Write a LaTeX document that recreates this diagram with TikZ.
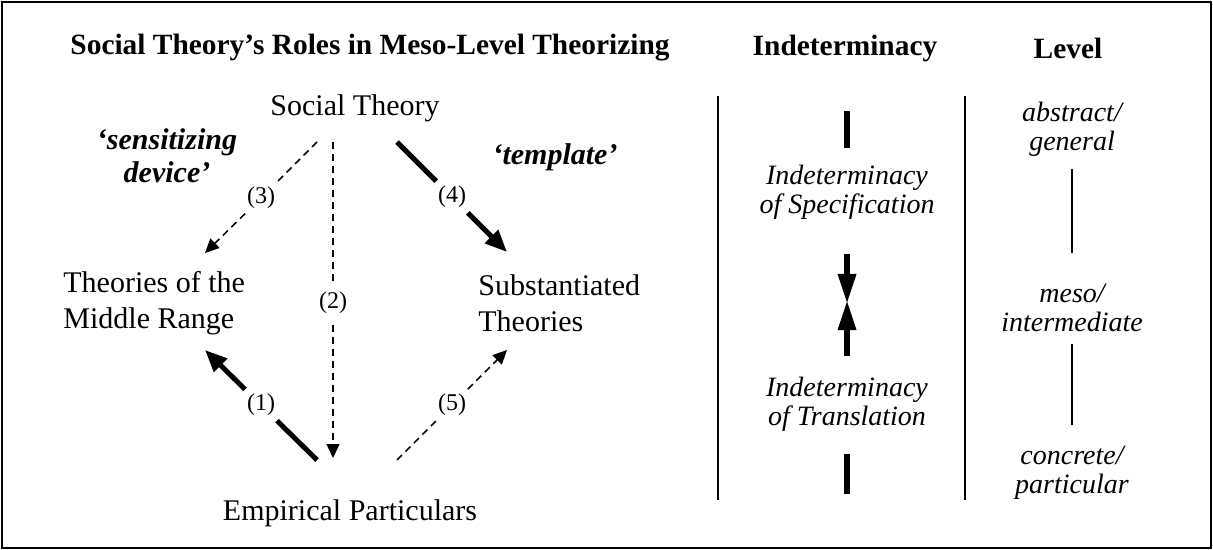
\documentclass[tikz,border=0pt]{standalone}
\usepackage{fontspec}
\setmainfont{Liberation Serif}
\usetikzlibrary{arrows.meta}

\begin{document}
\begin{tikzpicture}[x=0.5pt,y=-0.5pt,
  txt/.style={font=\fontsize{15}{18}\selectfont, inner sep=0pt, align=left},
  head/.style={font=\fontsize{14.7}{17}\selectfont\bfseries, inner sep=0pt},
  role/.style={font=\fontsize{15}{16.5}\selectfont\bfseries\itshape, inner sep=0pt, align=center},
  lvl/.style={font=\fontsize{14}{14.5}\selectfont\itshape, inner sep=0pt, align=center},
  num/.style={font=\fontsize{12}{14}\selectfont, circle, inner sep=0pt, minimum size=22pt},
  heavy/.style={line width=2.5pt},
  light/.style={line width=0.75pt, dash pattern=on 3.5pt off 2.5pt},
  heavyhead/.style={-{Triangle[length=11pt,width=9pt]}},
  lighthead/.style={-{Triangle[length=7pt,width=6.5pt]}},
  bar/.style={line width=3pt},
  bigarr/.style={line width=3pt, -{Triangle[length=15pt,width=8.5pt]}},
  sep/.style={line width=1pt},
  lvlline/.style={line width=0.7pt}]

\useasboundingbox (0,0) rectangle (1213,550);
\draw[line width=1pt] (2,2) rectangle (1211,548);

% ===== Headings =====
\node[head] (h1) at (370,48) {Social Theory’s Roles in Meso-Level Theorizing};
\node[head] (h2) at (845,48) {Indeterminacy};
\node[head] (h3) at (1068,48) {Level};

% ===== Left part: roles of social theory =====
\node[txt] (st) at (355,108) {Social Theory};
\node[txt, anchor=west] (mr) at (63,303) {Theories of the\\Middle Range};
\node[txt, anchor=west] (sb) at (478,303) {Substantiated\\Theories};
\node[txt] (ep) at (350,513) {Empirical Particulars};
\node[role] (sens) at (167,156) {‘sensitizing\\device’};
\node[role] (tmpl) at (555,157) {‘template’};

\coordinate (st3) at (317,142);
\coordinate (st2) at (333,142);
\coordinate (st4) at (397,142);
\coordinate (mr3) at (205,253);
\coordinate (sb4) at (507,252);
\coordinate (ep1) at (317,460);
\coordinate (ep2) at (333,458);
\coordinate (ep5) at (397,460);
\coordinate (mr1) at (205,350);
\coordinate (sb5) at (507,350);

\node[num] (n3) at (261,198) {(3)};
\node[num] (n4) at (452,197) {(4)};
\node[num] (n2) at (333,303) {(2)};
\node[num] (n1) at (261,405) {(1)};
\node[num] (n5) at (452,405) {(5)};

\draw[light] (st3) -- (n3);
\draw[light, lighthead] (n3) -- (mr3);
\draw[light] (st2) -- (n2);
\draw[light, lighthead] (n2) -- (ep2);
\draw[heavy] (st4) -- (n4);
\draw[heavy, heavyhead] (n4) -- (sb4);
\draw[heavy] (ep1) -- (n1);
\draw[heavy, heavyhead] (n1) -- (mr1);
\draw[light] (ep5) -- (n5);
\draw[light, lighthead] (n5) -- (sb5);

% ===== Separators =====
\draw[sep] (718,96) -- (718,500);
\draw[sep] (965,96) -- (965,500);

% ===== Indeterminacy =====
\node[lvl] (spec) at (847,192) {Indeterminacy\\of Specification};
\node[lvl] (trans) at (847,404) {Indeterminacy\\of Translation};
\coordinate (meet) at (847,302);
\draw[bar] ([yshift=8pt]spec.north) -- ++(0,-37);
\draw[bigarr, shorten <=17pt, shorten >=-1pt] (spec) -- (meet);
\draw[bigarr, shorten <=10pt, shorten >=-1pt] (trans) -- (meet);
\draw[bar] ([yshift=-11pt]trans.south) -- ++(0,40);

% ===== Level =====
\node[lvl] (abs) at (1072,129) {abstract/\\general};
\node[lvl] (meso) at (1072,308) {meso/\\intermediate};
\node[lvl] (conc) at (1072,473) {concrete/\\particular};
\draw[lvlline, shorten <=6pt, shorten >=15.5pt] (abs) -- (meso);
\draw[lvlline, shorten <=6pt, shorten >=10.5pt] (meso) -- (conc);

\end{tikzpicture}
\end{document}
